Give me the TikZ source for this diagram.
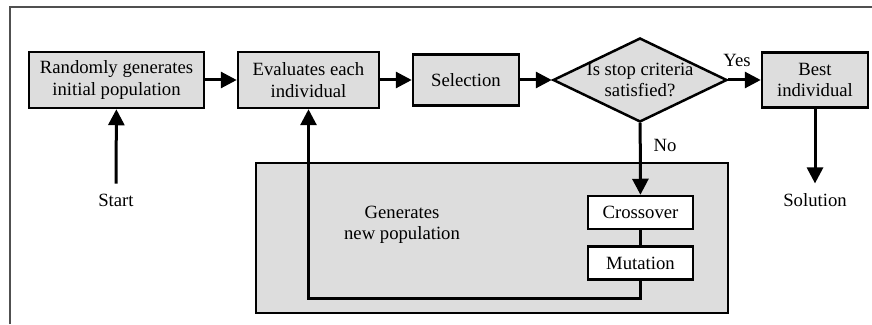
\documentclass[tikz,border=0pt]{standalone}
\usepackage{fontspec}
\setmainfont{Liberation Serif}
\usetikzlibrary{positioning,arrows.meta,shapes.geometric}
\definecolor{boxgray}{RGB}{221,221,221}
\definecolor{framegray}{RGB}{80,80,80}
\tikzset{
  ga box/.style={
    rectangle,
    draw=black,
    fill=boxgray,
    line width=2.5pt,
    align=center,
    inner sep=2pt,
    font=\fontsize{18.7}{21.5}\selectfont
  },
  ga test/.style={
    ga box,
    diamond,
    shape aspect=2.07,
    inner sep=-5pt,
    minimum width=174pt,
    minimum height=84pt
  },
  ga op/.style={
    ga box,
    fill=white,
    minimum width=105pt,
    minimum height=33pt
  },
  ga pool/.style={
    ga box,
    minimum width=472pt,
    minimum height=150pt
  },
  ga label/.style={
    align=center,
    inner sep=2pt,
    outer sep=8pt,
    font=\fontsize{18.7}{21.5}\selectfont
  },
  arrow/.style={
    -{Triangle[length=16pt,width=16pt]},
    line width=3pt
  },
  link/.style={
    line width=3pt
  }
}

\begin{document}
\begin{tikzpicture}[x=1pt,y=1pt]
  \useasboundingbox (0,0) rectangle (872,324);
  \draw[framegray, line width=1.2pt] (10,0) -- (10,317) -- (872,317);

  % Genetic algorithm loop
  \node[ga pool] (pool) at (492,86) {};
  \node[ga label, outer sep=0pt] (gen) at (402,99) {Generates\\new population};

  \node[ga box, minimum width=175pt, minimum height=56pt] (init) at (116.5,244) {Randomly generates\\initial population};
  \node[ga box, minimum width=141pt, minimum height=56pt] (eval) at (308.5,244) {Evaluates each\\individual};
  \node[ga box, minimum width=106pt, minimum height=51pt] (sel) at (466,244) {Selection};
  \node[ga test] (test) at (640,244) {Is stop criteria\\satisfied?};
  \node[ga box, minimum width=106pt, minimum height=55pt] (best) at (815,244) {Best\\individual};

  \node[ga op] (cross) at (640.5,111.5) {Crossover};
  \node[ga op, below=15pt of cross] (mut) {Mutation};

  \node[ga label] (start) at (116,124) {Start};
  \node[ga label] (sol) at (815,124) {Solution};
  \node[ga label, outer sep=0pt] (yes) at (737,264) {Yes};
  \node[ga label, outer sep=0pt] (no) at (665,179) {No};
  \coordinate (back) at (308.5,26);

  \draw[arrow] (start) -- (init);
  \draw[arrow] (init) -- (eval);
  \draw[arrow] (eval) -- (sel);
  \draw[arrow] (sel) -- (test);
  \draw[arrow] (test) -- (best);
  \draw[arrow] (best) -- (sol);
  \draw[arrow] (test) -- (cross);
  \draw[link] (cross) -- (mut);
  \draw[arrow] (mut.south) |- (back) -- (eval.south);
\end{tikzpicture}
\end{document}
